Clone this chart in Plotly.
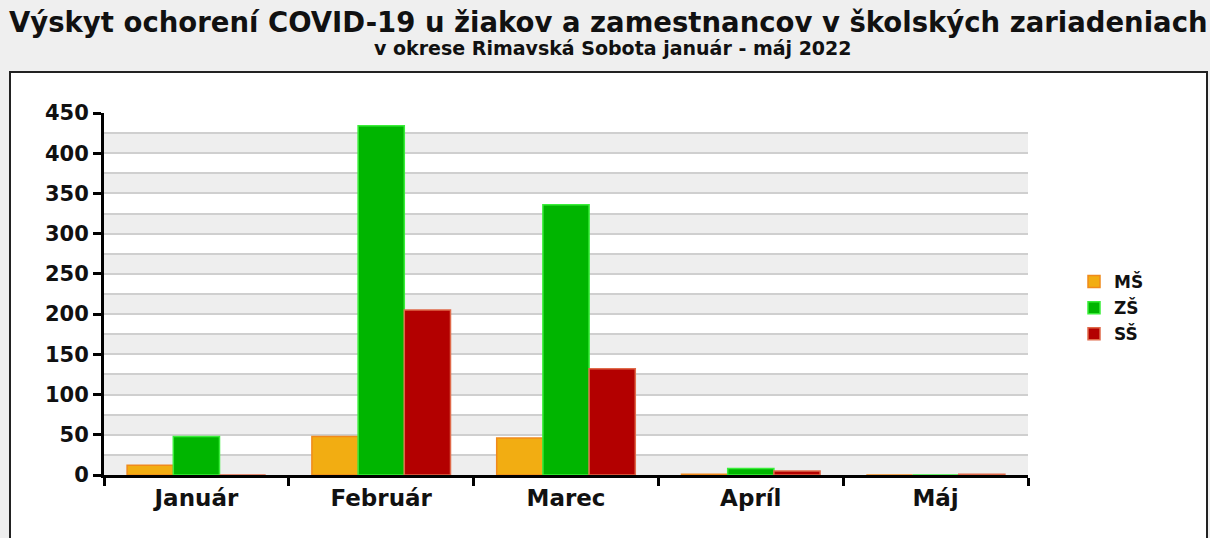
import plotly.graph_objects as go

months = ["Január", "Február", "Marec", "Apríl", "Máj"]
ms = [12, 48, 46, 1, 0]
zs = [48, 434, 336, 8, 0]
ss = [0, 205, 132, 5, 1]

title_text = "Výskyt ochorení COVID-19 u žiakov a zamestnancov v školských zariadeniach"
subtitle_text = "v okrese Rimavská Sobota január - máj 2022"
y_ticks = list(range(0, 451, 50))

FONT = "DejaVu Sans"

# plot area in pixels: x 104..1028, y 113..475
W, H = 1210, 538
L, R, T, B = 104, 182, 113, 63
pw, ph = W - L - R, H - T - B


def px_x(x):
    return (x - L) / pw


def px_y(y):
    return (H - B - y) / ph


series = [
    ("MŠ", ms, "#f2ad12", "#f08a1c"),
    ("ZŠ", zs, "#00b500", "#3aee3a"),
    ("SŠ", ss, "#b30000", "#e06a4a"),
]

fig = go.Figure()
for name, vals, fill, edge in series:
    fig.add_trace(go.Bar(
        x=months, y=vals, name=name,
        legendgroup=name,
        marker=dict(color=fill, line=dict(color=edge, width=1.5)),
    ))

# outer white frame with dark border
fig.add_shape(
    type="rect", xref="paper", yref="paper",
    x0=px_x(10), x1=px_x(1207), y0=px_y(600), y1=px_y(72),
    fillcolor="white", line=dict(color="#222222", width=2), layer="below",
)

# alternating grey bands
for k in y_ticks[:-1]:
    fig.add_shape(
        type="rect", xref="paper", yref="y",
        x0=0, x1=1, y0=k, y1=k + 25,
        fillcolor="#eeeeee", line=dict(width=0), layer="below",
    )

fig.add_annotation(
    text=title_text, xref="paper", yref="paper",
    x=px_x(608), y=px_y(22), xanchor="center", yanchor="middle",
    showarrow=False, font=dict(family=FONT, size=27.5, color="#111111", weight="bold"),
)
fig.add_annotation(
    text=subtitle_text, xref="paper", yref="paper",
    x=px_x(613), y=px_y(48), xanchor="center", yanchor="middle",
    showarrow=False, font=dict(family=FONT, size=19, color="#111111", weight="bold"),
)

fig.update_layout(
    width=W, height=H,
    margin=dict(l=L, r=R, t=T, b=B),
    paper_bgcolor="#efefef",
    plot_bgcolor="rgba(0,0,0,0)",
    barmode="group",
    bargap=0.25,
    bargroupgap=0,
    showlegend=True,
    legend=dict(
        x=px_x(1074), y=px_y(264), xanchor="left", yanchor="top",
        font=dict(family=FONT, size=17, color="#111111", weight="bold"),
        tracegroupgap=1,
        bgcolor="rgba(0,0,0,0)",
    ),
    font=dict(family=FONT, color="#111111"),
)

fig.update_xaxes(
    type="category",
    range=[-0.5, 4.5],
    showgrid=False,
    showline=True, linecolor="black", linewidth=3,
    ticks="outside", tickson="boundaries", ticklen=8, tickwidth=3, tickcolor="black",
    tickfont=dict(family=FONT, size=23, color="#111111", weight="bold"),
)

fig.update_yaxes(
    range=[0, 450],
    tickvals=y_ticks,
    showgrid=True, gridcolor="#cfcfcf", gridwidth=2,
    minor=dict(dtick=25, showgrid=True, gridcolor="#cfcfcf", gridwidth=2, ticks=""),
    showline=True, linecolor="black", linewidth=3,
    ticks="outside", ticklen=8, tickwidth=3, tickcolor="black",
    zeroline=False,
    tickfont=dict(family=FONT, size=21, color="#111111", weight="bold"),
)

fig.write_html(
    "out.html",
    config={"displayModeBar": False},
    post_script="document.body.style.margin='0';",
)
